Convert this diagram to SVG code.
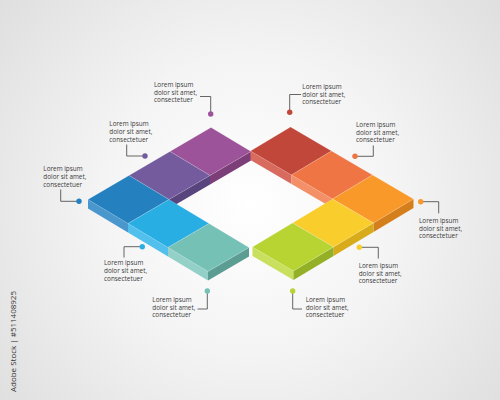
<svg xmlns="http://www.w3.org/2000/svg" width="500" height="400" viewBox="0 0 500 400">
<defs>
<radialGradient id="bg" cx="250" cy="205" r="330" gradientUnits="userSpaceOnUse">
<stop offset="0" stop-color="#ffffff"/>
<stop offset="0.45" stop-color="#f4f4f4"/>
<stop offset="1" stop-color="#dedede"/>
</radialGradient>
</defs>
<style>
.lbl{font-family:"Open Sans","Noto Sans","DejaVu Sans",sans-serif;font-size:6.4px;fill:#3a3a3a}
.ln{fill:none;stroke:#555555;stroke-width:0.9}
.top{stroke:#ffffff;stroke-opacity:0.25;stroke-width:0.6;stroke-linejoin:round}
</style>
<rect width="500" height="400" fill="url(#bg)"/>
<text x="16" y="392" transform="rotate(-90 16 392)" font-family="'Open Sans','Noto Sans',sans-serif" font-size="8" fill="#333333" textLength="101" lengthAdjust="spacingAndGlyphs">Adobe Stock | #511408925</text>

<g id="block-magenta">
<polygon points="251,151.5 210,175.5 210,184.5 251,160.5" fill="#7b3e78"/>
<polygon class="top" points="211,127.5 251,151.5 210,175.5 170,151.5" fill="#9c5399"/>
</g>
<g id="block-red">
<polygon points="250.5,151 291.5,175 291.5,184 250.5,160" fill="#d86a5e"/>
<polygon class="top" points="290.5,127 331.5,151 291.5,175 250.5,151" fill="#c2473b"/>
</g>
<g id="block-violet">
<polygon points="210,175.5 169,199.5 169,208.5 210,184.5" fill="#58457e"/>
<polygon class="top" points="170,151.5 210,175.5 169,199.5 129,175.5" fill="#735b9d"/>
</g>
<g id="block-orange">
<polygon points="291.5,175 332.5,199 332.5,208 291.5,184" fill="#f39067"/>
<polygon class="top" points="331.5,151 372.5,175 332.5,199 291.5,175" fill="#ef7544"/>
</g>
<g id="block-blue">
<polygon points="88,199.5 128,223.5 128,232.5 88,208.5" fill="#4a97cd"/>
<polygon class="top" points="129,175.5 169,199.5 128,223.5 88,199.5" fill="#2480be"/>
</g>
<g id="block-amber">
<polygon points="413.5,199 373.5,223 373.5,232 413.5,208" fill="#d57f1c"/>
<polygon class="top" points="372.5,175 413.5,199 373.5,223 332.5,199" fill="#f8992a"/>
</g>
<g id="block-cyan">
<polygon points="128,223.5 168,247.5 168,256.5 128,232.5" fill="#52c0ec"/>
<polygon class="top" points="169,199.5 209,223.5 168,247.5 128,223.5" fill="#29aee3"/>
</g>
<g id="block-yellow">
<polygon points="373.5,223 333.5,247 333.5,256 373.5,232" fill="#d8ab1b"/>
<polygon class="top" points="332.5,199 373.5,223 333.5,247 292.5,223" fill="#f9cd2c"/>
</g>
<g id="block-teal">
<polygon points="168,247.5 208,271.5 208,280.5 168,256.5" fill="#93d0c7"/>
<polygon points="208,271.5 249,247.5 249,256.5 208,280.5" fill="#5c9d93"/>
<polygon class="top" points="209,223.5 249,247.5 208,271.5 168,247.5" fill="#76c1b6"/>
</g>
<g id="block-green">
<polygon points="252.5,247 293.5,271 293.5,280 252.5,256" fill="#c9e05e"/>
<polygon points="293.5,271 333.5,247 333.5,256 293.5,280" fill="#94b026"/>
<polygon class="top" points="292.5,223 333.5,247 293.5,271 252.5,247" fill="#b7d433"/>
</g>

<g id="connectors">
<polyline class="ln" points="200,96.5 210.7,96.5 210.7,114"/>
<polyline class="ln" points="126.7,144.5 126.7,156 145,156"/>
<polyline class="ln" points="60.7,189.5 60.7,201.3 79,201.3"/>
<polyline class="ln" points="124,257.5 124,246.7 142.3,246.7"/>
<polyline class="ln" points="207.3,291 207.3,309 197.5,309"/>
<polyline class="ln" points="292.7,291 292.7,309 302,309"/>
<polyline class="ln" points="359.3,247.3 378.3,247.3 378.3,258.5"/>
<polyline class="ln" points="420.7,201.7 438.7,201.7 438.7,213.3"/>
<polyline class="ln" points="355,156.3 373.3,156.3 373.3,145.5"/>
<polyline class="ln" points="289.7,112.3 289.7,94.5 301,94.5"/>
<circle cx="210.7" cy="114" r="2.7" fill="#9c5399"/>
<circle cx="145" cy="156" r="2.7" fill="#735b9d"/>
<circle cx="79" cy="201.3" r="2.7" fill="#2480be"/>
<circle cx="142.3" cy="246.7" r="2.7" fill="#29aee3"/>
<circle cx="207.3" cy="291" r="2.7" fill="#76c1b6"/>
<circle cx="292.7" cy="291" r="2.7" fill="#b7d433"/>
<circle cx="359.3" cy="247.3" r="2.7" fill="#f9cd2c"/>
<circle cx="420.7" cy="201.7" r="2.7" fill="#f8992a"/>
<circle cx="355" cy="156.3" r="2.7" fill="#ef7544"/>
<circle cx="289.7" cy="112.3" r="2.7" fill="#c2473b"/>
</g>

<g id="label-magenta" class="lbl"><text x="154" y="87.2">Lorem ipsum</text><text x="154" y="94.8">dolor sit amet,</text><text x="154" y="102.4">consectetuer</text></g>
<g id="label-violet" class="lbl"><text x="109.3" y="126.4">Lorem ipsum</text><text x="109.3" y="134">dolor sit amet,</text><text x="109.3" y="141.6">consectetuer</text></g>
<g id="label-blue" class="lbl"><text x="43.3" y="171.4">Lorem ipsum</text><text x="43.3" y="179">dolor sit amet,</text><text x="43.3" y="186.6">consectetuer</text></g>
<g id="label-cyan" class="lbl"><text x="104" y="265.4">Lorem ipsum</text><text x="104" y="273">dolor sit amet,</text><text x="104" y="280.6">consectetuer</text></g>
<g id="label-teal" class="lbl"><text x="152.3" y="302.2">Lorem ipsum</text><text x="152.3" y="309.8">dolor sit amet,</text><text x="152.3" y="317.4">consectetuer</text></g>
<g id="label-green" class="lbl"><text x="305.7" y="302.2">Lorem ipsum</text><text x="305.7" y="309.8">dolor sit amet,</text><text x="305.7" y="317.4">consectetuer</text></g>
<g id="label-yellow" class="lbl"><text x="358.7" y="268.2">Lorem ipsum</text><text x="358.7" y="275.8">dolor sit amet,</text><text x="358.7" y="283.4">consectetuer</text></g>
<g id="label-amber" class="lbl"><text x="419" y="222.9">Lorem ipsum</text><text x="419" y="230.5">dolor sit amet,</text><text x="419" y="238.1">consectetuer</text></g>
<g id="label-orange" class="lbl"><text x="356" y="127.2">Lorem ipsum</text><text x="356" y="134.8">dolor sit amet,</text><text x="356" y="142.4">consectetuer</text></g>
<g id="label-red" class="lbl"><text x="302.3" y="89.2">Lorem ipsum</text><text x="302.3" y="96.8">dolor sit amet,</text><text x="302.3" y="104.4">consectetuer</text></g>
</svg>
